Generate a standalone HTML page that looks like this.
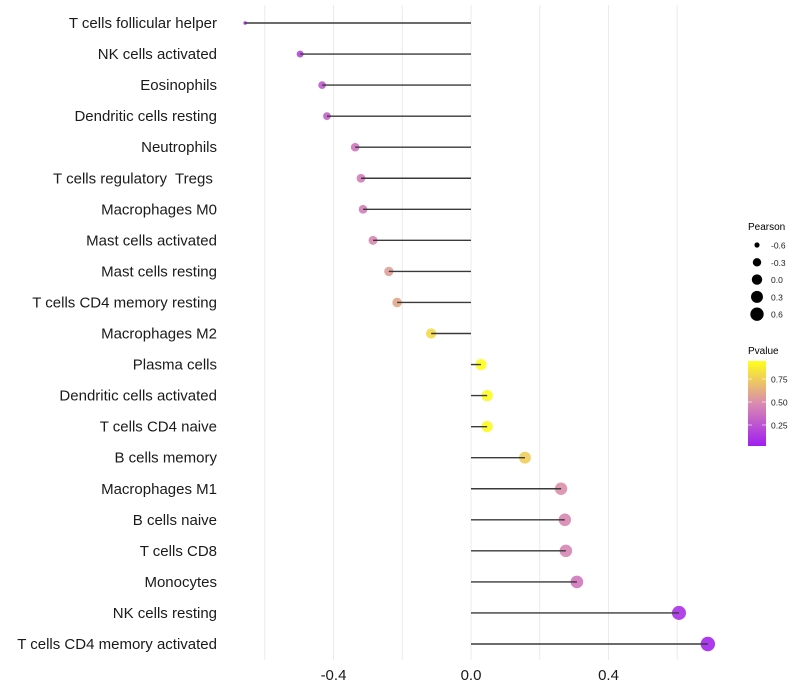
<!DOCTYPE html>
<html><head><meta charset="utf-8"><style>
body{margin:0;background:#fff;}
svg{display:block;font-family:"Liberation Sans",sans-serif;}
text{white-space:pre;}
</style></head><body>
<svg id="chart" width="800" height="700">
<defs>
<linearGradient id="pg" x1="0" y1="1" x2="0" y2="0">
<stop offset="0" stop-color="#a01ef0"/><stop offset="0.5" stop-color="#d98bb0"/><stop offset="1" stop-color="#ffff1a"/>
</linearGradient>
</defs>
<g id="grid"></g>
<g id="dots"></g>
<g id="marks"></g>
<g id="ylabels"></g>
<g id="xlabels"></g>
<g>
<text x="748" y="230" font-size="10">Pearson</text>
<g id="sizeleg"></g>
</g>
<g>
<text x="748" y="354" font-size="10">Pvalue</text>
<rect x="748" y="361" width="18" height="85" fill="url(#pg)"/>
<g id="colleg"></g>
</g>
</svg>
<script>
const categories=["T cells follicular helper","NK cells activated","Eosinophils","Dendritic cells resting","Neutrophils","T cells regulatory  Tregs ","Macrophages M0","Mast cells activated","Mast cells resting","T cells CD4 memory resting","Macrophages M2","Plasma cells","Dendritic cells activated","T cells CD4 naive","B cells memory","Macrophages M1","B cells naive","T cells CD8","Monocytes","NK cells resting","T cells CD4 memory activated"];
const pearson=[-0.657,-0.497,-0.433,-0.419,-0.337,-0.320,-0.314,-0.285,-0.239,-0.215,-0.116,0.029,0.047,0.047,0.157,0.262,0.273,0.276,0.308,0.605,0.689];
const pvalue=[0.08,0.2,0.27,0.3,0.4,0.42,0.43,0.47,0.56,0.6,0.8,0.95,0.93,0.93,0.75,0.5,0.47,0.46,0.4,0.1,0.05];
const xTicks=[-0.4,0,0.4];
const xTickLabels=["-0.4","0.0","0.4"];
const gridVals=[-0.6,-0.4,-0.2,0,0.2,0.4,0.6];
const sizeLegVals=[-0.6,-0.3,0.0,0.3,0.6];
const sizeLegLabels=["-0.6","-0.3","0.0","0.3","0.6"];
const colLegVals=[0.25,0.5,0.75];
const colLegLabels=["0.25","0.50","0.75"];

const NS="http://www.w3.org/2000/svg";
const X=v=>471+v*343.75;
const Y=i=>23+i*31.05;
const R=v=>1.5+5.7*Math.sqrt(Math.max(0,(v+0.66)/1.35));
function lerp(a,b,t){return a.map((x,k)=>Math.round(x+(b[k]-x)*t));}
function col(p){const t=Math.max(0,Math.min(1,(p-0.02)/0.93));
 const c0=[160,30,240],c1=[217,139,176],c2=[255,255,26];
 const c=t<0.5?lerp(c0,c1,t*2):lerp(c1,c2,(t-0.5)*2);return `rgb(${c})`;}
function mk(tag,attrs,parent){const e=document.createElementNS(NS,tag);for(const k in attrs)e.setAttribute(k,attrs[k]);parent.appendChild(e);return e;}
const grid=document.getElementById('grid'),marks=document.getElementById('marks'),dots=document.getElementById('dots'),yl=document.getElementById('ylabels'),xl=document.getElementById('xlabels');
gridVals.forEach(v=>{const l=mk('line',{x1:X(v),x2:X(v),y1:5,y2:660,stroke:'#ebebeb','stroke-width':1},grid);

});
categories.forEach((c,i)=>{
 const y=Y(i);
 const d=mk('circle',{cx:X(pearson[i]),cy:y,r:R(pearson[i]),fill:col(pvalue[i]),'fill-opacity':0.9},dots);
 
 
 const s=mk('line',{x1:X(0),x2:X(pearson[i]),y1:y,y2:y,stroke:'#3a3a3a','stroke-width':1.4},marks);
 
 
 const t=mk('text',{x:217,y:y+5,'text-anchor':'end','font-size':15,fill:'#1a1a1a'},yl);
 t.textContent=c;
 
 
});
xTicks.forEach((v,i)=>{const t=mk('text',{x:X(v),y:680,'text-anchor':'middle','font-size':15,fill:'#1a1a1a'},xl);
 t.textContent=xTickLabels[i];
 
 });
const sl=document.getElementById('sizeleg');
sizeLegVals.forEach((v,i)=>{const y=245+i*17.3;
 const c=mk('circle',{cx:757,cy:y,r:R(v)*0.95,fill:'#000'},sl);
 
 
 const t=mk('text',{x:771,y:y+3.5,'font-size':8.5,fill:'#1a1a1a'},sl);t.textContent=sizeLegLabels[i];
 
 });
const cl=document.getElementById('colleg');
colLegVals.forEach((v,i)=>{const y=425-(v-0.25)*92;
 mk('line',{x1:748,x2:752,y1:y,y2:y,stroke:'#fff','stroke-opacity':0.6},cl);
 mk('line',{x1:762,x2:766,y1:y,y2:y,stroke:'#fff','stroke-opacity':0.6},cl);
 const t=mk('text',{x:771,y:y+3.5,'font-size':8.5,fill:'#1a1a1a'},cl);t.textContent=colLegLabels[i];
 
 });
</script>
</body></html>
